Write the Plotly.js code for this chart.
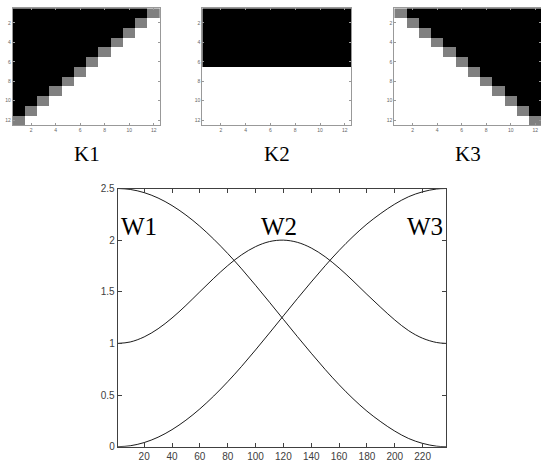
<!DOCTYPE html>
<html>
<head>
<meta charset="utf-8">
<script src="https://cdn.plot.ly/plotly-3.0.1.min.js"></script>
<style>
html, body { margin: 0; padding: 0; overflow: hidden; background: #fff; }
#chart { width: 545px; height: 462px; }
</style>
</head>
<body>
<div id="chart"></div>
<script>
// ---- data ----
var cells = [1, 2, 3, 4, 5, 6, 7, 8, 9, 10, 11, 12];
var matrixTicks = [2, 4, 6, 8, 10, 12];

var K1 = [
  [0, 0, 0, 0, 0, 0, 0, 0, 0, 0, 0, 0.5],
  [0, 0, 0, 0, 0, 0, 0, 0, 0, 0, 0.5, 1],
  [0, 0, 0, 0, 0, 0, 0, 0, 0, 0.5, 1, 1],
  [0, 0, 0, 0, 0, 0, 0, 0, 0.5, 1, 1, 1],
  [0, 0, 0, 0, 0, 0, 0, 0.5, 1, 1, 1, 1],
  [0, 0, 0, 0, 0, 0, 0.5, 1, 1, 1, 1, 1],
  [0, 0, 0, 0, 0, 0.5, 1, 1, 1, 1, 1, 1],
  [0, 0, 0, 0, 0.5, 1, 1, 1, 1, 1, 1, 1],
  [0, 0, 0, 0.5, 1, 1, 1, 1, 1, 1, 1, 1],
  [0, 0, 0.5, 1, 1, 1, 1, 1, 1, 1, 1, 1],
  [0, 0.5, 1, 1, 1, 1, 1, 1, 1, 1, 1, 1],
  [0.5, 1, 1, 1, 1, 1, 1, 1, 1, 1, 1, 1]
];
var K2 = [
  [0, 0, 0, 0, 0, 0, 0, 0, 0, 0, 0, 0],
  [0, 0, 0, 0, 0, 0, 0, 0, 0, 0, 0, 0],
  [0, 0, 0, 0, 0, 0, 0, 0, 0, 0, 0, 0],
  [0, 0, 0, 0, 0, 0, 0, 0, 0, 0, 0, 0],
  [0, 0, 0, 0, 0, 0, 0, 0, 0, 0, 0, 0],
  [0, 0, 0, 0, 0, 0, 0, 0, 0, 0, 0, 0],
  [1, 1, 1, 1, 1, 1, 1, 1, 1, 1, 1, 1],
  [1, 1, 1, 1, 1, 1, 1, 1, 1, 1, 1, 1],
  [1, 1, 1, 1, 1, 1, 1, 1, 1, 1, 1, 1],
  [1, 1, 1, 1, 1, 1, 1, 1, 1, 1, 1, 1],
  [1, 1, 1, 1, 1, 1, 1, 1, 1, 1, 1, 1],
  [1, 1, 1, 1, 1, 1, 1, 1, 1, 1, 1, 1]
];
var K3 = [
  [0.5, 0, 0, 0, 0, 0, 0, 0, 0, 0, 0, 0],
  [1, 0.5, 0, 0, 0, 0, 0, 0, 0, 0, 0, 0],
  [1, 1, 0.5, 0, 0, 0, 0, 0, 0, 0, 0, 0],
  [1, 1, 1, 0.5, 0, 0, 0, 0, 0, 0, 0, 0],
  [1, 1, 1, 1, 0.5, 0, 0, 0, 0, 0, 0, 0],
  [1, 1, 1, 1, 1, 0.5, 0, 0, 0, 0, 0, 0],
  [1, 1, 1, 1, 1, 1, 0.5, 0, 0, 0, 0, 0],
  [1, 1, 1, 1, 1, 1, 1, 0.5, 0, 0, 0, 0],
  [1, 1, 1, 1, 1, 1, 1, 1, 0.5, 0, 0, 0],
  [1, 1, 1, 1, 1, 1, 1, 1, 1, 0.5, 0, 0],
  [1, 1, 1, 1, 1, 1, 1, 1, 1, 1, 0.5, 0],
  [1, 1, 1, 1, 1, 1, 1, 1, 1, 1, 1, 0.5]
];
var matrixNames = ["K1", "K2", "K3"];

var xs = [1, 10, 20, 30, 40, 50, 60, 70, 80, 90, 100, 110, 120,
          130, 140, 150, 160, 170, 180, 190, 200, 210, 220, 230, 237];
var W1 = [2.500, 2.491, 2.460, 2.408, 2.335, 2.243, 2.134, 2.009, 1.871, 1.722, 1.563, 1.399, 1.233,
          1.067, 0.905, 0.748, 0.600, 0.465, 0.344, 0.241, 0.151, 0.079, 0.032, 0.005, 0.000];
var W2 = [1.000, 1.014, 1.063, 1.142, 1.246, 1.368, 1.500, 1.631, 1.753, 1.858, 1.937, 1.986, 2.000,
          1.979, 1.924, 1.839, 1.730, 1.606, 1.475, 1.348, 1.227, 1.123, 1.050, 1.009, 1.000];
var W3 = [0.000, 0.009, 0.040, 0.092, 0.165, 0.257, 0.366, 0.491, 0.629, 0.778, 0.937, 1.101, 1.267,
          1.433, 1.595, 1.752, 1.900, 2.035, 2.156, 2.259, 2.349, 2.421, 2.468, 2.495, 2.500];
var lineNames = ["W1", "W2", "W3"];
var xTicks = [20, 40, 60, 80, 100, 120, 140, 160, 180, 200, 220];
var yTicks = [0, 0.5, 1, 1.5, 2, 2.5];

// ---- layout helpers ----
var W = 545, H = 462;
function px(a) { return a / W; }
function py(a) { return 1 - a / H; }

var grayScale = [[0, '#000000'], [0.5, '#808080'], [1, '#ffffff']];
var mats = [K1, K2, K3];
var traces = [];
mats.forEach(function (m, i) {
  traces.push({
    type: 'heatmap', z: m, x: cells, y: cells,
    colorscale: grayScale, zmin: 0, zmax: 1, showscale: false,
    xaxis: 'x' + (i + 2), yaxis: 'y' + (i + 2), hoverinfo: 'skip'
  });
});
[W1, W2, W3].forEach(function (w, i) {
  traces.push({
    type: 'scatter', mode: 'lines', x: xs, y: w, name: lineNames[i],
    line: { color: '#000000', width: 0.9, shape: 'spline', smoothing: 1 },
    xaxis: 'x', yaxis: 'y', showlegend: false, hoverinfo: 'skip'
  });
});

var smallFont = { family: 'Liberation Sans, Arial, sans-serif', size: 5, color: '#666666' };
function matX(dom, rng) {
  return {
    domain: dom, range: rng, tickvals: matrixTicks, ticks: 'inside', ticklen: 2,
    tickcolor: '#999', showline: true, linecolor: '#999', linewidth: 1, mirror: 'ticks',
    showgrid: false, zeroline: false, tickfont: smallFont, fixedrange: true
  };
}
function matY(anchor) {
  return {
    domain: [py(125), py(8.3)], range: [12.5, 0.5], tickvals: matrixTicks, ticks: 'inside',
    ticklen: 2, tickcolor: '#999', showline: true, linecolor: '#999', linewidth: 1,
    mirror: 'ticks', showgrid: false, zeroline: false, tickfont: smallFont,
    anchor: anchor, fixedrange: true
  };
}

var axFont = { family: 'Liberation Sans, Arial, sans-serif', size: 10, color: '#404040' };
var layout = {
  width: W, height: H,
  margin: { l: 0, r: 0, t: 0, b: 0 },
  paper_bgcolor: '#ffffff', plot_bgcolor: '#ffffff',
  showlegend: false,
  xaxis: {
    domain: [px(117.7), px(446.3)], range: [1, 237], tickvals: xTicks,
    ticks: 'inside', ticklen: 4, tickcolor: '#404040', showline: true, linecolor: '#404040',
    linewidth: 1, mirror: 'ticks', showgrid: false, zeroline: false, tickfont: axFont,
    anchor: 'y'
  },
  yaxis: {
    domain: [py(446.7), py(188.5)], range: [0, 2.5], tickvals: yTicks,
    ticktext: ['0', '0.5', '1', '1.5', '2', '2.5'],
    ticks: 'inside', ticklen: 4, tickcolor: '#404040', showline: true, linecolor: '#404040',
    linewidth: 1, mirror: 'ticks', showgrid: false, zeroline: false, tickfont: axFont,
    anchor: 'x'
  },
  xaxis2: Object.assign(matX([px(12.7), px(160)], [0.5, 12.5]), { anchor: 'y2' }),
  yaxis2: matY('x2'),
  xaxis3: Object.assign(matX([px(202.3), px(351)], [0.5, 12.5]), { anchor: 'y3' }),
  yaxis3: matY('x3'),
  xaxis4: Object.assign(matX([px(394.3), px(541.3)], [0.5, 12.5]), { anchor: 'y4' }),
  yaxis4: matY('x4'),
  annotations: []
};

var serif = 'Liberation Serif, Times New Roman, serif';
var kCenters = [87, 277, 468];
matrixNames.forEach(function (n, i) {
  layout.annotations.push({
    text: n, xref: 'paper', yref: 'paper', x: px(kCenters[i]), y: py(154),
    xanchor: 'center', yanchor: 'middle', showarrow: false,
    font: { family: serif, size: 21, color: '#000' }
  });
});
var wPos = [[119, 'left'], [278.7, 'center'], [445, 'right']];
lineNames.forEach(function (n, i) {
  layout.annotations.push({
    text: n, xref: 'paper', yref: 'paper', x: px(wPos[i][0]), y: py(226),
    xanchor: wPos[i][1], yanchor: 'middle', showarrow: false,
    font: { family: serif, size: 25, color: '#000' }
  });
});

Plotly.newPlot('chart', traces, layout, { staticPlot: true, displayModeBar: false });
</script>
</body>
</html>
